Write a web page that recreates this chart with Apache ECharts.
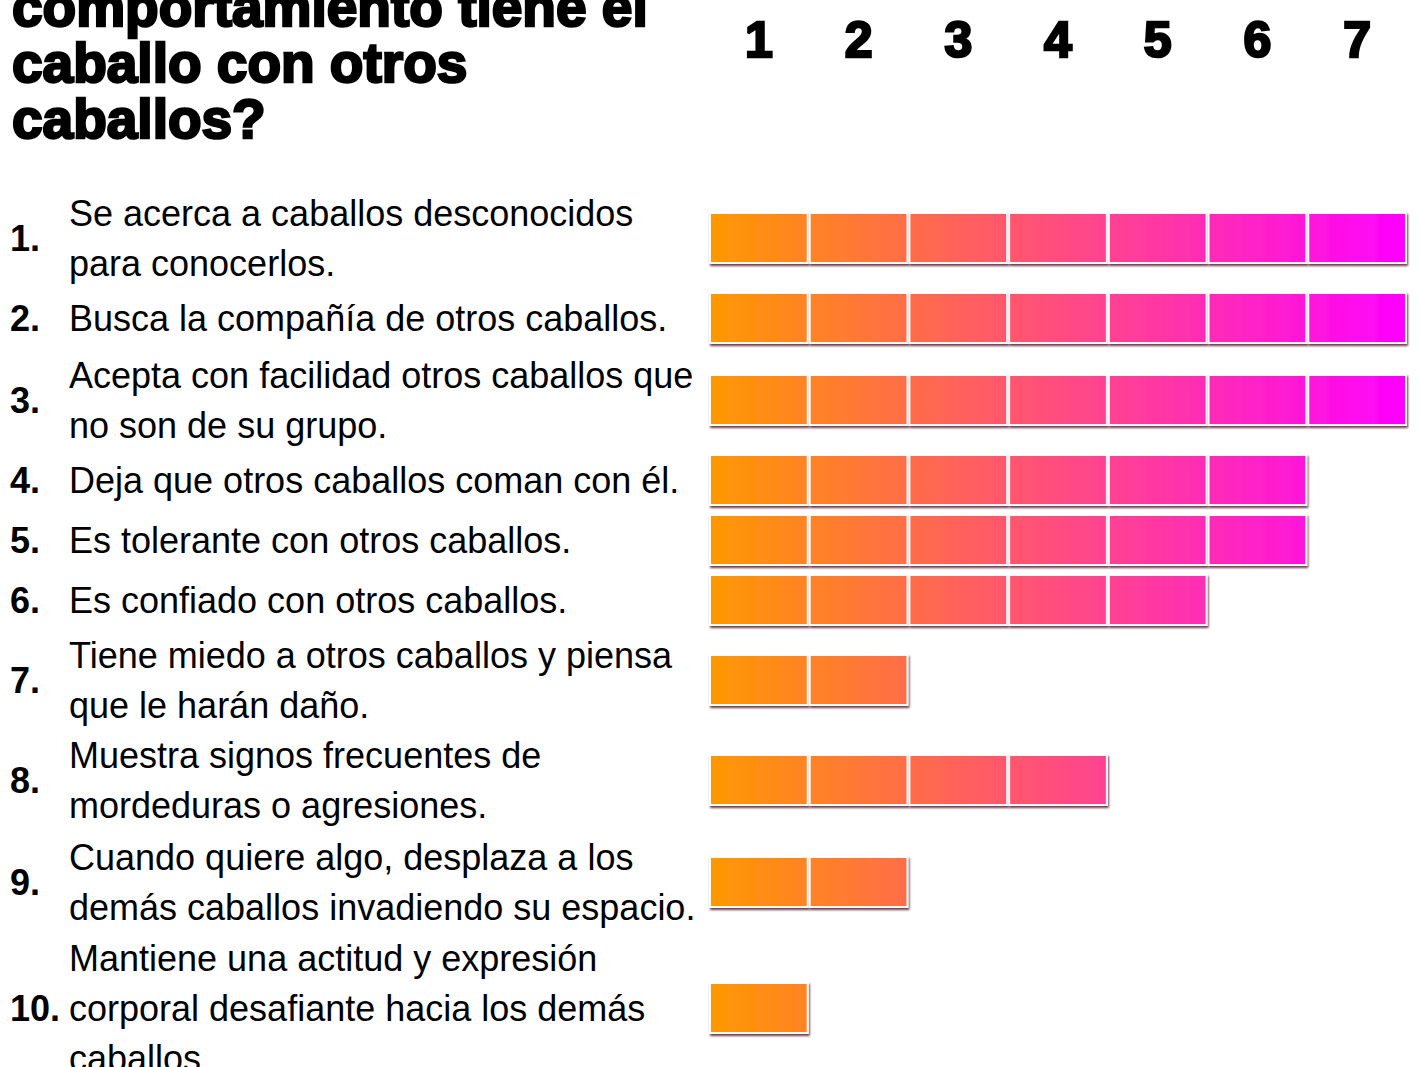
<!DOCTYPE html>
<html>
<head>
<meta charset="utf-8">
<title>Comportamiento con otros caballos</title>
<script src="https://cdn.jsdelivr.net/npm/echarts@6/dist/echarts.min.js"></script>
<style>
html, body { margin: 0; padding: 0; background: #fff; }
#chart { width: 1421px; height: 1067px; }
</style>
</head>
<body>
<div id="chart"></div>
<script>
// datos
const titleText = 'comportamiento tiene el\ncaballo con otros\ncaballos?';
const scaleLabels = ['1', '2', '3', '4', '5', '6', '7'];
const itemNumbers = ['1.', '2.', '3.', '4.', '5.', '6.', '7.', '8.', '9.', '10.'];
const itemTexts = [
    'Se acerca a caballos desconocidos\npara conocerlos.',
    'Busca la compañía de otros caballos.',
    'Acepta con facilidad otros caballos que\nno son de su grupo.',
    'Deja que otros caballos coman con él.',
    'Es tolerante con otros caballos.',
    'Es confiado con otros caballos.',
    'Tiene miedo a otros caballos y piensa\nque le harán daño.',
    'Muestra signos frecuentes de\nmordeduras o agresiones.',
    'Cuando quiere algo, desplaza a los\ndemás caballos invadiendo su espacio.',
    'Mantiene una actitud y expresión\ncorporal desafiante hacia los demás\ncaballos.'
];
const scores = [7, 7, 7, 6, 6, 5, 2, 4, 2, 1];

// maquetación
const rowCenters = [238, 318, 400, 480, 540, 600, 680, 780, 882, 1008];
const barLeft = 709, barRight = 1407, rowHeight = 54;
const fromColor = [255, 153, 0], toColor = [255, 0, 255];
const font = '"Liberation Sans", Arial, sans-serif';

function mix(t) {
    let c = fromColor.map((v, i) => Math.round(v + (toColor[i] - v) * t));
    return 'rgb(' + c.join(',') + ')';
}
function blockColor(k) {
    let n = scaleLabels.length;
    return {
        type: 'linear', x: 0, y: 0, x2: 1, y2: 0,
        colorStops: [{offset: 0, color: mix(k / n)}, {offset: 1, color: mix((k + 1) / n)}]
    };
}

let grids = [], xAxes = [], yAxes = [], series = [];
rowCenters.forEach((c, r) => {
    grids.push({
        left: barLeft, width: barRight - barLeft, top: c - rowHeight / 2, height: rowHeight,
        outerBoundsMode: 'none', containLabel: false
    });
    xAxes.push({type: 'value', gridIndex: r, min: 0, max: scaleLabels.length, show: false});
    // número del ítem
    yAxes.push({
        type: 'category', gridIndex: r, position: 'left', data: [itemNumbers[r]],
        axisLine: {show: false}, axisTick: {show: false}, splitLine: {show: false},
        axisLabel: {margin: barLeft - 10, align: 'left', color: '#000', fontFamily: font, fontWeight: 'bold', fontSize: 36}
    });
    // texto del ítem
    yAxes.push({
        type: 'category', gridIndex: r, position: 'left', data: [itemTexts[r]],
        axisLine: {show: false}, axisTick: {show: false}, splitLine: {show: false},
        axisLabel: {margin: barLeft - 69, align: 'left', color: '#000', fontFamily: font, fontSize: 36, lineHeight: 50}
    });
    for (let k = 0; k < scaleLabels.length; k++) {
        if (scores[r] <= k) break;
        series.push({
            type: 'bar', xAxisIndex: r, yAxisIndex: r * 2, stack: 'fila' + r,
            barWidth: 52, data: [1], silent: true,
            itemStyle: {
                color: blockColor(k),
                borderColor: 'rgba(255,255,255,0.95)', borderWidth: 2,
                shadowColor: 'rgba(70,0,30,0.8)', shadowBlur: 2, shadowOffsetX: 1, shadowOffsetY: 2
            }
        });
    }
});
// cabecera 1..7
xAxes.push({
    type: 'category', gridIndex: 0, position: 'top', data: scaleLabels,
    axisLine: {show: false}, axisTick: {show: false}, splitLine: {show: false},
    axisLabel: {
        margin: rowCenters[0] - rowHeight / 2 - 40, verticalAlign: 'middle', color: '#000',
        fontFamily: font, fontWeight: 'bold', fontSize: 50, textBorderColor: '#000', textBorderWidth: 2.5
    }
});

let myChart = echarts.init(document.getElementById('chart'), null, {renderer: 'svg'});
myChart.setOption({
    backgroundColor: '#fff',
    animation: false,
    title: {
        text: titleText, left: 7, top: -26,
        textStyle: {
            color: '#000', fontFamily: font, fontWeight: 'bold', fontSize: 55, lineHeight: 56,
            textBorderColor: '#000', textBorderWidth: 2.5
        }
    },
    grid: grids,
    xAxis: xAxes,
    yAxis: yAxes,
    series: series
});
</script>
</body>
</html>
